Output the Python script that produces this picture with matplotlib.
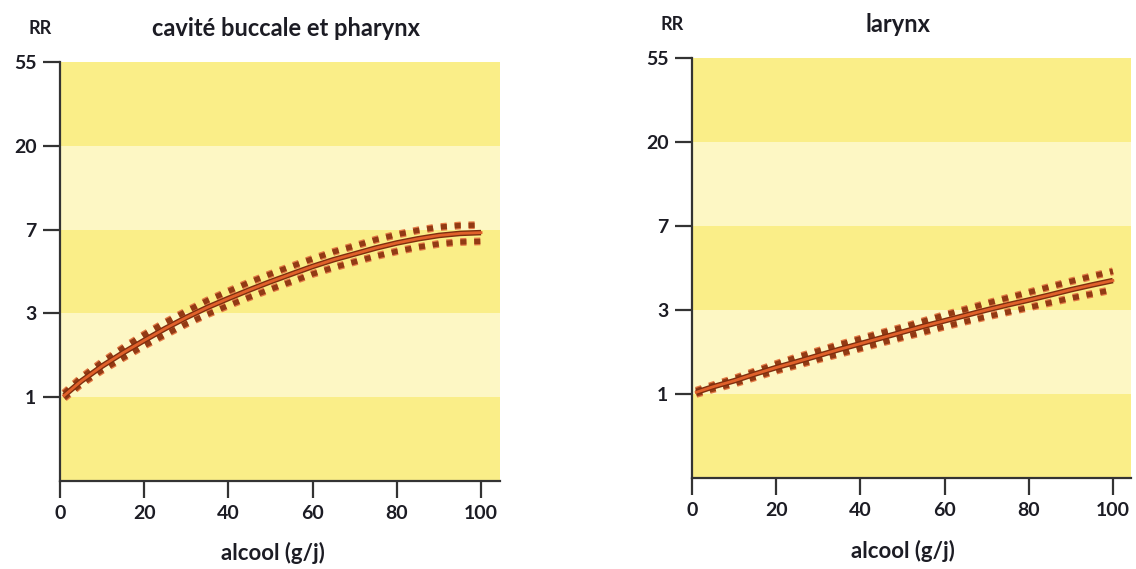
"""RR vs alcohol intake: oral cavity/pharynx and larynx, with dotted CI bands."""
import numpy as np
import matplotlib
matplotlib.use("Agg")
import matplotlib.pyplot as plt

plt.rcParams['font.family'] = ['Lato', 'DejaVu Sans']
plt.rcParams['lines.scale_dashes'] = False

# ---- data ----
alcool = [1, 5, 10, 15, 20, 25, 30, 35, 40, 45, 50, 55, 60, 65, 70, 75, 80, 85, 90, 95, 100]

bouche_rr = [1.02, 1.21, 1.45, 1.70, 1.97, 2.27, 2.59, 2.92, 3.25, 3.60, 3.97,
             4.35, 4.76, 5.16, 5.53, 5.93, 6.30, 6.62, 6.89, 7.06, 7.13]
bouche_hi = [1.05, 1.26, 1.52, 1.80, 2.11, 2.44, 2.79, 3.17, 3.54, 3.94, 4.35,
             4.77, 5.21, 5.67, 6.08, 6.55, 6.96, 7.32, 7.61, 7.76, 7.80]
bouche_lo = [0.99, 1.17, 1.38, 1.60, 1.85, 2.11, 2.40, 2.69, 2.99, 3.30, 3.63,
             3.97, 4.35, 4.70, 5.03, 5.38, 5.70, 5.99, 6.23, 6.37, 6.42]

larynx_rr = [1.02, 1.09, 1.17, 1.27, 1.37, 1.47, 1.58, 1.70, 1.82, 1.95, 2.09,
             2.24, 2.39, 2.55, 2.72, 2.89, 3.06, 3.25, 3.46, 3.66, 3.86]
larynx_hi = [1.04, 1.11, 1.20, 1.31, 1.43, 1.55, 1.67, 1.80, 1.93, 2.07, 2.21,
             2.38, 2.56, 2.74, 2.94, 3.14, 3.35, 3.58, 3.82, 4.06, 4.31]
larynx_lo = [1.00, 1.06, 1.13, 1.22, 1.32, 1.41, 1.51, 1.61, 1.72, 1.84, 1.96,
             2.09, 2.23, 2.37, 2.51, 2.65, 2.80, 2.96, 3.13, 3.29, 3.46]

rr_ticks = [1, 3, 7, 20, 55]          # labels drawn at e^0 .. e^4
x_ticks = [0, 20, 40, 60, 80, 100]
titles = ["cavité buccale et pharynx", "larynx"]

DARK_BAND = "#FAEE88"
LIGHT_BAND = "#FDF7C4"
TXT = "#1c1c24"

W, H = 1136, 569
fig = plt.figure(figsize=(W / 100, H / 100), dpi=100)


def px_axes(x0, y0, x1, y1):
    return fig.add_axes([x0 / W, 1 - y1 / H, (x1 - x0) / W, (y1 - y0) / H])


def draw_panel(ax, rr, hi, lo, xmax):
    ax.set_yscale('log', base=np.e)
    levels = np.exp(np.arange(-1, 5))
    for i in range(len(levels) - 1):
        ax.axhspan(levels[i], levels[i + 1], color=DARK_BAND if i % 2 == 0 else LIGHT_BAND,
                   lw=0, zorder=0)
    for band in (hi, lo):
        ax.plot(alcool, band, color="#e37a45", lw=5.6, dashes=(4.4, 5.6),
                dash_capstyle='butt', zorder=2)
        ax.plot(alcool, band, color="#923a14", lw=3.8, dashes=(4.4, 5.6),
                dash_capstyle='butt', zorder=2.5)
    ax.plot(alcool, rr, color="#7e2e0e", lw=4.0, solid_capstyle='butt', zorder=3)
    ax.plot(alcool, rr, color="#e0612a", lw=2.0, zorder=4)

    ax.set_xlim(0, xmax)
    ax.set_ylim(np.exp(-1), np.exp(4))
    ax.set_yticks(np.exp(np.arange(5)))
    ax.set_yticklabels([str(v) for v in rr_ticks])
    ax.yaxis.set_minor_locator(plt.NullLocator())
    ax.set_xticks(x_ticks)
    ax.set_xticklabels([str(v) for v in x_ticks])
    for s in ('top', 'right'):
        ax.spines[s].set_visible(False)
    for s in ('left', 'bottom'):
        ax.spines[s].set_color("#333333")
        ax.spines[s].set_linewidth(1.6)
    ax.tick_params(direction='out', length=12, width=1.6, color="#333333",
                   labelsize=14, labelcolor=TXT, pad=5)
    for lab in ax.get_xticklabels() + ax.get_yticklabels():
        lab.set_fontweight('bold')


ax1 = px_axes(60, 62, 500, 481)
draw_panel(ax1, bouche_rr, bouche_hi, bouche_lo, 104.5)
ax2 = px_axes(692, 58, 1131, 478)
draw_panel(ax2, larynx_rr, larynx_hi, larynx_lo, 104.3)

# titles, RR labels and x labels placed in pixel terms
fig.text(286 / W, 1 - 28 / H, titles[0], ha='center', va='center', fontsize=17,
         fontweight='bold', color=TXT)
fig.text(898 / W, 1 - 24 / H, titles[1], ha='center', va='center', fontsize=17,
         fontweight='bold', color=TXT)
fig.text(40 / W, 1 - 29 / H, "RR", ha='center', va='center', fontsize=13,
         fontweight='bold', color=TXT)
fig.text(672 / W, 1 - 25 / H, "RR", ha='center', va='center', fontsize=13,
         fontweight='bold', color=TXT)
fig.text(273 / W, 1 - 553 / H, "alcool (g/j)", ha='center', va='center', fontsize=16,
         fontweight='bold', color=TXT)
fig.text(903 / W, 1 - 551 / H, "alcool (g/j)", ha='center', va='center', fontsize=16,
         fontweight='bold', color=TXT)

fig.savefig("out.png", dpi=100)
